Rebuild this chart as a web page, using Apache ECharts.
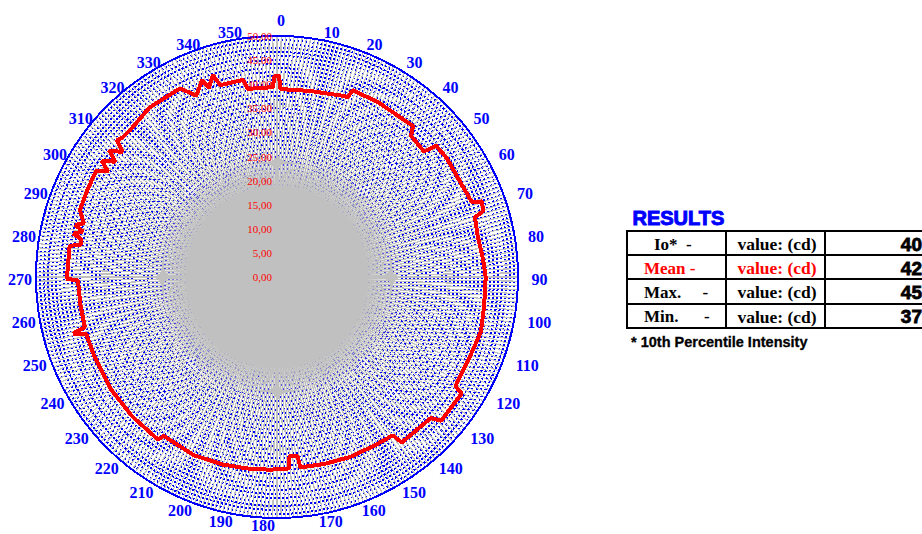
<!DOCTYPE html>
<html>
<head>
<meta charset="utf-8">
<script src="https://cdn.jsdelivr.net/npm/echarts@6/dist/echarts.min.js"></script>
<style>
  html, body { margin: 0; padding: 0; background: #ffffff; }
  #chart { width: 922px; height: 534px; }
  /* crisp, non-antialiased grid like a classic spreadsheet plot */
  #chart svg path { shape-rendering: crispEdges; }
</style>
</head>
<body>
<div id="chart"></div>
<script>
// Measured luminous intensity (cd) around the fixture, by angle in degrees.
const angleDeg = [
  0, 0.6, 1.0, 10, 20, 21.5, 22, 30, 41.5, 42, 43.5, 49.5, 50.5, 55, 62, 69, 69.8, 72.3, 73.2, 78, 85,
  90, 98, 105, 113, 121.5, 122.2, 131.2, 132.5, 143, 143.8, 150, 158, 166, 173, 173.5, 176, 176.5,
  182, 188, 196, 205, 215.5, 216.2, 226, 236, 247, 253.5, 254.5, 255.4, 262, 269, 269.5, 278.6,
  279.2, 281, 282, 283.2, 284.5, 285.5, 288.8, 295, 300.5, 302, 303.5, 305.5, 307, 309, 310.5,
  312, 315, 323, 332.8, 336, 339.2, 340.2, 342.4, 343.5, 350.2, 351.2, 358.8, 359.2, 360
];
const meanIntensity = [
  41.7, 41.7, 39.0, 39.2, 40.0, 40.1, 41.8, 41.9, 42.1, 42.2, 40.4, 40.1, 42.8, 43.0, 42.8, 43.3, 45.4, 44.8, 42.9, 42.5, 42.9,
  43.3, 43.4, 43.8, 43.3, 43.4, 45.3, 45.3, 43.3, 43.0, 40.7, 40.4, 40.3, 40.0, 39.8, 37.3, 37.3, 39.8,
  40.0, 40.2, 40.5, 40.8, 40.5, 41.8, 41.7, 41.6, 41.3, 41.3, 43.9, 41.2, 41.2, 41.3, 43.6, 43.5,
  41.3, 41.4, 43.2, 41.4, 43.2, 41.6, 43.2, 43.3, 43.5, 41.3, 43.6, 41.2, 43.6, 41.2, 43.7,
  43.2, 43.1, 44.0, 44.0, 41.2, 43.7, 41.7, 44.0, 41.5, 41.5, 39.5, 39.4, 41.7, 41.7
];

// Angle tick labels (degrees) and the intensity scale
const degreeLabels = [0, 10, 20, 30, 40, 50, 60, 70, 80, 90, 100, 110, 120, 130, 140, 150, 160, 170,
                      180, 190, 200, 210, 220, 230, 240, 250, 260, 270, 280, 290, 300, 310, 320, 330, 340, 350];
const radiusMin = 0, radiusMax = 50, radiusLabelStep = 5;
const angleStep = 10;

// Results table
const resultNames = ['Io*  -', 'Mean -', 'Max.     -', 'Min.      -'];
const resultUnit = 'value: (cd)';
const resultValues = [40, 42, 45, 37];
const resultColors = ['#000000', '#ff0000', '#000000', '#000000'];
const footnote = '* 10th Percentile Intensity';

const CX = 277, CY = 277, R = 241;
const BLUE = '#0000ff', GRID_GRAY = '#c0c0c0';
const LABEL_RING = radiusMax * 243 / R;   // degree labels sit just outside the rim

const seriesData = angleDeg.map((a, i) => [meanIntensity[i], a]);

// Degree labels: right half starts at the anchor, left half ends at it,
// drifting down towards the bottom of the dial.
function degreeLabelOffset(deg) {
  if (deg === 0) return [4, -14];
  const t = deg * Math.PI / 180, s = Math.sin(t), c = Math.cos(t);
  const w = String(deg).length * 8;
  const dy = Math.min(5, 2.5 - 7.5 * c);
  if (deg < 180) return [11.5 * s + 2.5 * c + w / 2, dy];
  const d = 2 - 9.5 * Math.pow(Math.max(0, c), 2);
  return [-(d + w / 2), dy];
}
const degreeLabelData = degreeLabels.map(d => ({
  value: [LABEL_RING, d],
  label: { offset: degreeLabelOffset(d) }
}));

// Dense grey core where the radial grid converges: 1-cd bands, opaque
// near the pole and fading out between 19 and 26 cd.
const coreBands = [];
for (let v = radiusMin; v < radiusMax; v++) {
  const a = v < 19 ? 1 : v < 26 ? Math.max(0, 1 - (v - 18) / 8) : 0;
  coreBands.push('rgba(192,192,192,' + a.toFixed(2) + ')');
}

// Table geometry
const tX = [627, 726, 825, 930];
const tY = [231, 255, 279, 303.5, 328];

const graphics = [];
graphics.push({
  type: 'text', left: 632, top: 207,
  style: { text: 'RESULTS', fill: BLUE, font: 'bold 20px "Liberation Sans", Arial, sans-serif',
           stroke: BLUE, lineWidth: 1 }
});
tY.forEach(y => graphics.push({ type: 'line', shape: { x1: tX[0] - 1, y1: y, x2: 922, y2: y },
  style: { stroke: '#000', lineWidth: 2 } }));
tX.slice(0, 3).forEach(x => graphics.push({ type: 'line', shape: { x1: x, y1: tY[0], x2: x, y2: tY[4] },
  style: { stroke: '#000', lineWidth: 2 } }));
resultNames.forEach((name, i) => {
  const yc = (tY[i] + tY[i + 1]) / 2 + 1;
  graphics.push({ type: 'text', x: i === 0 ? 654 : 644, y: yc,
    style: { text: name, fill: resultColors[i], font: 'bold 17px "Liberation Serif", serif',
             textVerticalAlign: 'middle', textAlign: 'left' } });
  graphics.push({ type: 'text', x: 777, y: yc,
    style: { text: resultUnit, fill: resultColors[i], font: 'bold 17.5px "Liberation Serif", serif',
             textVerticalAlign: 'middle', textAlign: 'center' } });
  graphics.push({ type: 'text', x: 922, y: yc,
    style: { text: String(resultValues[i]), fill: '#000', font: 'bold 19px "Liberation Sans", Arial, sans-serif',
             textVerticalAlign: 'middle', textAlign: 'right', stroke: '#000', lineWidth: 0.8 } });
});
graphics.push({
  type: 'text', x: 631, y: 342,
  style: { text: footnote, fill: '#000', font: 'bold 14.5px "Liberation Sans", Arial, sans-serif',
           textVerticalAlign: 'middle', stroke: '#000', lineWidth: 0.3 }
});

const chart = echarts.init(document.getElementById('chart'), null, { renderer: 'svg' });
chart.setOption({
  animation: false,
  backgroundColor: '#ffffff',
  polar: [
    { center: [CX, CY], radius: R },
    { center: [CX, CY], radius: R },
    { center: [CX, CY], radius: R }
  ],
  angleAxis: [
    { // polar 0: carries the dotted rings underneath
      polarIndex: 0, type: 'value', min: 0, max: 360, interval: angleStep, startAngle: 90, clockwise: true,
      axisLine: { show: false }, axisTick: { show: false }, axisLabel: { show: false },
      splitLine: { show: false }, z: 0
    },
    { // polar 1: 1-degree radial grid and outer ring
      polarIndex: 1, type: 'value', min: 0, max: 360, interval: angleStep, startAngle: 90, clockwise: true,
      axisLine: { show: true, lineStyle: { color: BLUE, width: 2 } },
      axisTick: { show: false },
      minorTick: { show: false, splitNumber: 10 },
      splitLine: { show: true, lineStyle: { color: GRID_GRAY, width: 1.2 } },
      minorSplitLine: { show: true, lineStyle: { color: GRID_GRAY, width: 1.2 } },
      axisLabel: { show: false },
      z: 2
    },
    { // polar 2: grey core and intensity labels
      polarIndex: 2, type: 'value', min: 0, max: 360, interval: angleStep, startAngle: 90, clockwise: true,
      axisLine: { show: false }, axisTick: { show: false }, axisLabel: { show: false },
      splitLine: { show: false }, z: 3
    }
  ],
  radiusAxis: [
    { // dotted blue rings
      polarIndex: 0, type: 'value', min: radiusMin, max: radiusMax, interval: radiusLabelStep,
      axisLine: { show: false }, axisTick: { show: false }, axisLabel: { show: false },
      minorTick: { show: false, splitNumber: 6 },
      splitLine: { show: true, lineStyle: { color: BLUE, width: 2, type: [2, 2] } },
      minorSplitLine: { show: true, lineStyle: { color: BLUE, width: 2, type: [2, 2] } },
      z: 1
    },
    { // polar 1 radius axis (nothing drawn)
      polarIndex: 1, type: 'value', min: radiusMin, max: radiusMax, interval: radiusLabelStep,
      axisLine: { show: false }, axisTick: { show: false }, axisLabel: { show: false },
      splitLine: { show: false }, z: 2
    },
    { // grey core + intensity labels
      polarIndex: 2, type: 'value', min: radiusMin, max: radiusMax, interval: 1,
      axisLine: { show: false }, axisTick: { show: false },
      splitLine: { show: false },
      splitArea: { show: true, areaStyle: { color: coreBands } },
      axisLabel: {
        color: '#ff0000', fontFamily: '"Liberation Serif", serif', fontSize: 11, margin: 5,
        padding: [10, 0, 0, 0],
        formatter: v => (v % radiusLabelStep === 0 ? v.toFixed(2).replace('.', ',') : '')
      },
      z: 3
    }
  ],
  series: [
    {
      name: 'Mean',
      type: 'line', coordinateSystem: 'polar', polarIndex: 1,
      data: seriesData, showSymbol: false, symbol: 'none', smooth: false,
      lineStyle: { color: '#ff0000', width: 4 }, z: 10
    },
    {
      name: 'Degrees',
      type: 'scatter', coordinateSystem: 'polar', polarIndex: 1, clip: false, silent: true,
      symbolSize: 0, data: degreeLabelData,
      itemStyle: { opacity: 1 },
      label: {
        show: true, position: 'inside', formatter: p => String(p.value[1]),
        color: BLUE, opacity: 1, fontFamily: '"Liberation Serif", serif', fontWeight: 'bold', fontSize: 16
      },
      z: 11
    }
  ],
  graphic: graphics
});
</script>
</body>
</html>
